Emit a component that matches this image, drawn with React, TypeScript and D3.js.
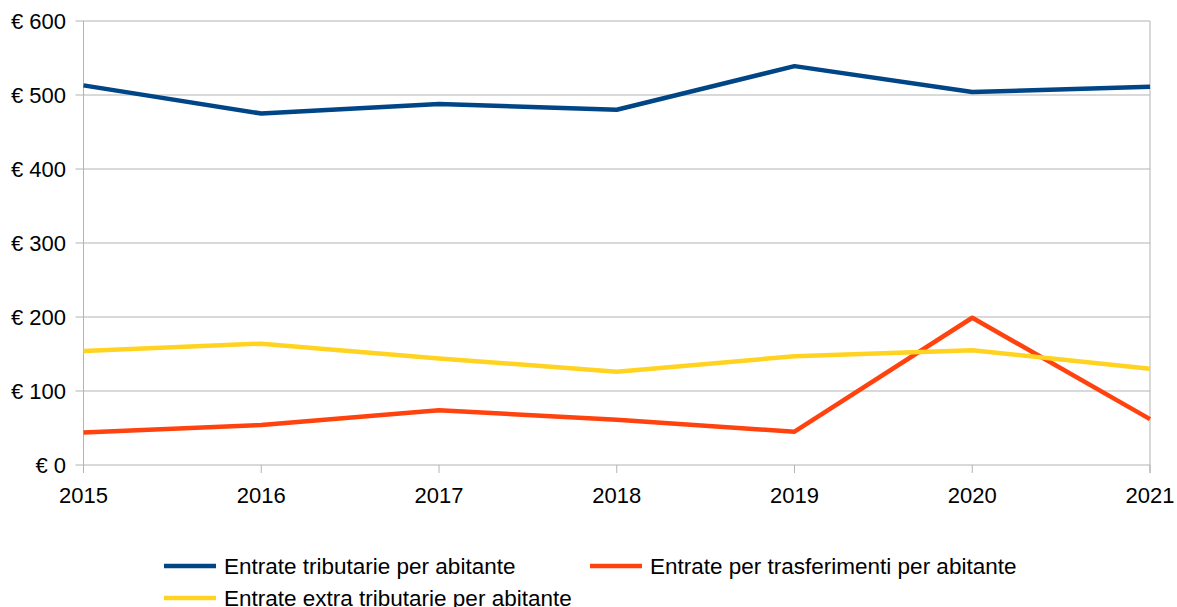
import * as d3 from 'd3';
import React, { useEffect, useRef } from 'react';

const years = ['2015', '2016', '2017', '2018', '2019', '2020', '2021'];
const tributarie = [513, 475, 488, 480, 539, 504, 511];
const trasferimenti = [44, 54, 74, 61, 45, 199, 62];
const extraTributarie = [154, 164, 144, 126, 147, 155, 130];
const yTicks = [0, 100, 200, 300, 400, 500, 600];

const series = [
  { name: 'Entrate tributarie per abitante', values: tributarie, color: '#004586' },
  { name: 'Entrate per trasferimenti per abitante', values: trasferimenti, color: '#ff420e' },
  { name: 'Entrate extra tributarie per abitante', values: extraTributarie, color: '#ffd320' },
];

const width = 1177;
const height = 607;
const margin = { top: 21, right: 27, bottom: 142, left: 83.5 };
const font = '"Liberation Sans", Arial, sans-serif';

const App = () => {
  const svgRef = useRef(null);

  useEffect(() => {
    const svg = d3.select(svgRef.current);
    svg.selectAll('*').remove();

    const x = d3
      .scalePoint()
      .domain(years)
      .range([margin.left, width - margin.right]);
    const y = d3
      .scaleLinear()
      .domain([0, 600])
      .range([height - margin.bottom, margin.top]);

    const grid = svg.append('g');
    grid
      .selectAll('line')
      .data(yTicks)
      .enter()
      .append('line')
      .attr('x1', margin.left - 8)
      .attr('x2', width - margin.right)
      .attr('y1', (d) => y(d))
      .attr('y2', (d) => y(d))
      .attr('stroke', '#b3b3b3')
      .attr('stroke-width', 1);

    // vertical borders
    [margin.left, width - margin.right].forEach((xx) => {
      svg
        .append('line')
        .attr('x1', xx)
        .attr('x2', xx)
        .attr('y1', margin.top)
        .attr('y2', height - margin.bottom + 8)
        .attr('stroke', '#b3b3b3');
    });

    // x ticks
    svg
      .append('g')
      .selectAll('line')
      .data(years)
      .enter()
      .append('line')
      .attr('x1', (d) => x(d))
      .attr('x2', (d) => x(d))
      .attr('y1', height - margin.bottom)
      .attr('y2', height - margin.bottom + 8)
      .attr('stroke', '#b3b3b3');

    svg
      .append('g')
      .selectAll('text')
      .data(yTicks)
      .enter()
      .append('text')
      .attr('x', 66)
      .attr('y', (d) => y(d) + 8)
      .attr('text-anchor', 'end')
      .style('font-family', font)
      .style('font-size', '22px')
      .attr('fill', '#000')
      .text((d) => '€ ' + d);

    svg
      .append('g')
      .selectAll('text')
      .data(years)
      .enter()
      .append('text')
      .attr('x', (d) => x(d))
      .attr('y', 503)
      .attr('text-anchor', 'middle')
      .style('font-family', font)
      .style('font-size', '22px')
      .attr('fill', '#000')
      .text((d) => d);

    const line = d3
      .line<number>()
      .x((d, i) => x(years[i]) as number)
      .y((d) => y(d));

    series.forEach((s) => {
      svg
        .append('path')
        .datum(s.values)
        .attr('d', line)
        .attr('fill', 'none')
        .attr('stroke', s.color)
        .attr('stroke-width', 4.5)
        .attr('stroke-linejoin', 'round');
    });

    const legendPos = [
      { x: 164, y: 566 },
      { x: 590, y: 566 },
      { x: 164, y: 598 },
    ];
    series.forEach((s, i) => {
      const p = legendPos[i];
      svg
        .append('line')
        .attr('x1', p.x)
        .attr('x2', p.x + 52)
        .attr('y1', p.y)
        .attr('y2', p.y)
        .attr('stroke', s.color)
        .attr('stroke-width', 4.5);
      svg
        .append('text')
        .attr('x', p.x + 60)
        .attr('y', p.y + 8)
        .style('font-family', font)
        .style('font-size', '22.5px')
        .attr('fill', '#000')
        .text(s.name);
    });
  }, []);

  return (
    <svg
      ref={svgRef}
      width={width}
      height={height}
      style={{ position: 'absolute', left: 0, top: 0, background: '#fff' }}
    />
  );
};

export default App;
